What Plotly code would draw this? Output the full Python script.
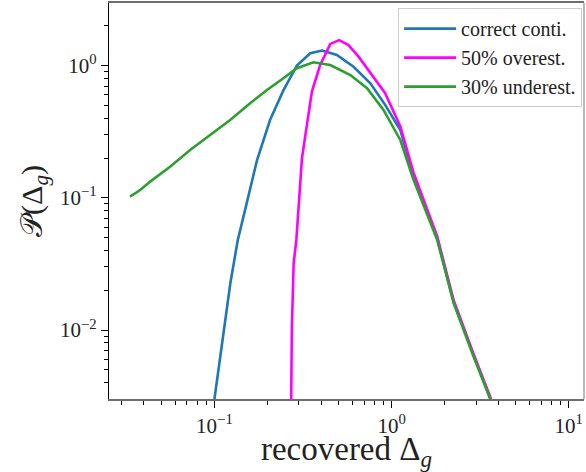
import plotly.graph_objects as go

# ---- data ----
correct_x = [0.097, 0.1, 0.123, 0.1355, 0.149, 0.174, 0.206, 0.245, 0.292, 0.3475,
             0.405, 0.491, 0.61, 0.759, 0.92, 1.12, 1.33, 1.81, 2.24, 2.9, 3.61, 4.0]
correct_y = [0.0015, 0.003, 0.0226, 0.048, 0.081, 0.193, 0.388, 0.65, 1.0, 1.24,
             1.30, 1.205, 0.98, 0.736, 0.505, 0.326, 0.145, 0.049, 0.0163, 0.0064, 0.003, 0.0018]

over_x = [0.27, 0.272, 0.2735, 0.28, 0.29, 0.312, 0.355, 0.395, 0.451, 0.506, 0.571,
          0.651, 0.759, 0.92, 1.12, 1.33, 1.81, 2.24, 2.9, 3.61, 4.0]
over_y = [0.0015, 0.003, 0.01, 0.032, 0.048, 0.1995, 0.636, 1.01, 1.46, 1.56, 1.43,
          1.17, 0.875, 0.618, 0.346, 0.155, 0.051, 0.0168, 0.0066, 0.0031, 0.0019]

under_x = [0.0334, 0.0381, 0.0434, 0.0562, 0.0729, 0.0945, 0.1227, 0.159, 0.198, 0.245,
           0.292, 0.362, 0.451, 0.585, 0.727, 0.90, 1.12, 1.33, 1.81, 2.24, 2.9, 3.61, 4.0]
under_y = [0.102, 0.1146, 0.1327, 0.172, 0.230, 0.299, 0.388, 0.519, 0.655, 0.803,
           0.956, 1.06, 1.01, 0.85, 0.675, 0.462, 0.274, 0.137, 0.048, 0.016, 0.0063, 0.003, 0.0018]

series_names = ["correct conti.", "50% overest.", "30% underest."]
series_colors = ["#1f77b4", "#ff00ff", "#2ca02c"]

x_tickvals = [0.1, 1, 10]
x_ticktext = ["10<sup>−1</sup>", "10<sup>0</sup>", "10<sup>1</sup>"]
y_tickvals = [0.01, 0.1, 1]
y_ticktext = ["10<sup>−2</sup>", "10<sup>−1</sup>", "10<sup>0</sup>"]

minor_x = [m * 10 ** e for e in range(-2, 2) for m in range(2, 10)]
minor_y = [m * 10 ** e for e in range(-3, 1) for m in range(2, 10)]

FONT = "Liberation Serif"

fig = go.Figure()
for i, (xs, ys) in enumerate([(correct_x, correct_y), (over_x, over_y), (under_x, under_y)]):
    fig.add_trace(go.Scatter(x=xs, y=ys, mode="lines", name=series_names[i],
                             legendgroup=f"g{i}",
                             line=dict(color=series_colors[i], width=2.6)))

fig.update_layout(
    width=586, height=472,
    margin=dict(l=109, r=2, t=3, b=73),
    paper_bgcolor="white", plot_bgcolor="white",
    font=dict(family=FONT, color="#222222"),
    showlegend=True,
    legend=dict(x=0.996, y=0.987, xanchor="right", yanchor="top",
                bgcolor="rgba(255,255,255,0.9)", bordercolor="#cccccc", borderwidth=1,
                font=dict(family=FONT, size=20, color="#222222"),
                tracegroupgap=0, itemwidth=52),
    xaxis=dict(type="log", range=[-1.595, 1.086], automargin=False,
               tickmode="array", tickvals=x_tickvals, ticktext=x_ticktext,
               ticks="outside", ticklen=7, tickwidth=1.2, tickcolor="black",
               tickfont=dict(family=FONT, size=21, color="#222222"),
               minor=dict(tickmode="array", tickvals=minor_x, ticks="outside",
                          ticklen=4, tickwidth=1, tickcolor="black", showgrid=False),
               showgrid=False, zeroline=False,
               showline=True, linecolor="#6e6e6e", linewidth=2, mirror=True,
               title=dict(text="recovered Δ<sub><i>g</i></sub>",
                          font=dict(family=FONT, size=33, color="#222222"), standoff=5)),
    yaxis=dict(type="log", range=[-2.522, 0.474], automargin=False,
               tickmode="array", tickvals=y_tickvals, ticktext=y_ticktext,
               ticks="outside", ticklen=7, tickwidth=1.2, tickcolor="black",
               tickfont=dict(family=FONT, size=21, color="#222222"),
               minor=dict(tickmode="array", tickvals=minor_y, ticks="outside",
                          ticklen=4, tickwidth=1, tickcolor="black", showgrid=False),
               showgrid=False, zeroline=False,
               showline=True, linecolor="black", linewidth=1.2, mirror=False,
               title=dict(text="𝒫(Δ<sub><i>g</i></sub>)",
                          font=dict(family=FONT, size=30, color="#222222"), standoff=8)),
)
fig.add_shape(type="line", xref="paper", yref="paper", x0=1, x1=1, y0=0, y1=1,
              line=dict(color="#8a8a8a", width=1.2))

fig.write_html("out.html", config={"displayModeBar": False},
               post_script="document.body.style.margin='0px';document.body.style.padding='0px';")
